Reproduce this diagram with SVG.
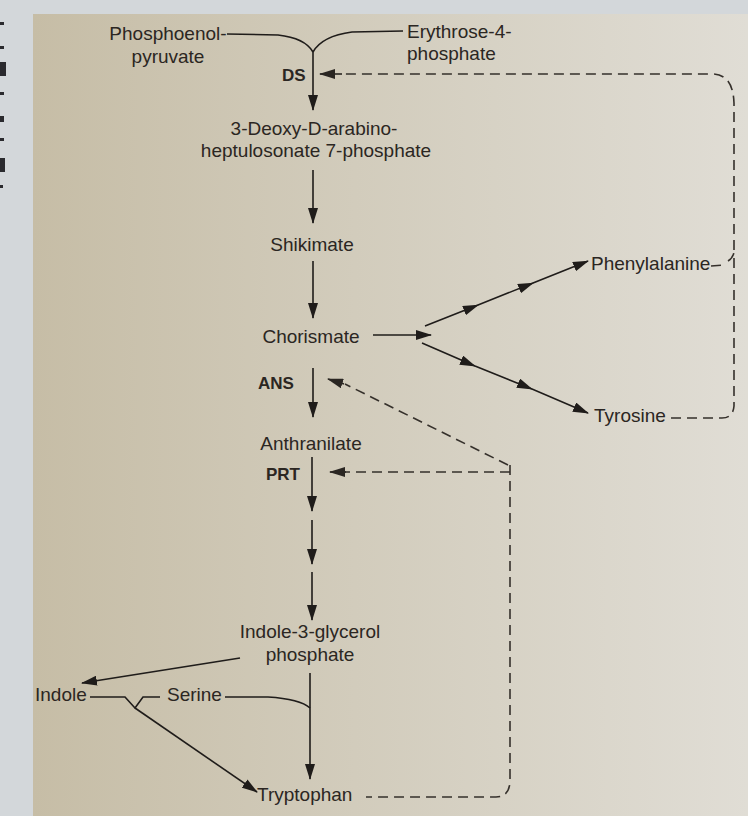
<svg xmlns="http://www.w3.org/2000/svg" width="748" height="816" viewBox="0 0 748 816">
<defs>
<linearGradient id="page" x1="0" y1="0" x2="1" y2="0">
<stop offset="0" stop-color="#c6bda6"/>
<stop offset="0.45" stop-color="#d2ccbc"/>
<stop offset="1" stop-color="#e0ddd5"/>
</linearGradient>
<marker id="ah" markerWidth="16" markerHeight="10" refX="15" refY="5" orient="auto" markerUnits="userSpaceOnUse">
<path d="M0,0 L16,5 L0,10 Z" fill="#1f1c1a"/>
</marker>
<marker id="ahd" markerWidth="16" markerHeight="10" refX="15" refY="5" orient="auto" markerUnits="userSpaceOnUse">
<path d="M0,0 L16,5 L0,10 Z" fill="#2a2622"/>
</marker>
</defs>
<style>
text{font-family:"Liberation Sans","DejaVu Sans",sans-serif;font-size:19px;fill:#2b2622}
.b{font-weight:bold;font-size:17px}
.m{text-anchor:middle}
.ln{fill:none;stroke:#1f1c1a;stroke-width:1.6}
.ar{fill:none;stroke:#1f1c1a;stroke-width:1.6;marker-end:url(#ah)}
.dsh{fill:none;stroke:#35302b;stroke-width:1.6;stroke-dasharray:10 6}
</style>
<rect x="0" y="0" width="748" height="816" fill="#d3d7da"/>
<rect x="33" y="14" width="715" height="802" fill="url(#page)"/>
<g fill="#2a2a2e">
<rect x="0" y="22" width="4" height="3"/>
<rect x="0" y="46" width="4" height="3"/>
<rect x="0" y="62" width="6" height="14"/>
<rect x="0" y="92" width="4" height="3"/>
<rect x="0" y="116" width="4" height="6"/>
<rect x="0" y="138" width="4" height="3"/>
<rect x="0" y="158" width="5" height="14"/>
<rect x="0" y="185" width="3" height="3"/>
</g>

<g id="connectors">
<path class="ln" d="M227,34 L278,35 Q305,38 313,52"/>
<path class="ln" d="M403,31 L352,32 Q322,36 313,52"/>
<path class="ar" d="M313,52 L313,110"/>
<path class="ar" d="M313,170 L313,223"/>
<path class="ar" d="M313,261 L313,318"/>
<path class="ar" d="M373,335 L431,335"/>
<path d="M425,326 L478,305 L533,283 L588,261" class="ln" marker-mid="url(#ah)" marker-end="url(#ah)"/>
<path d="M422,343 L475,366 L532,389 L588,413" class="ln" marker-mid="url(#ah)" marker-end="url(#ah)"/>
<path class="ar" d="M313,368 L313,417"/>
<path class="ar" d="M312,457 L312,511"/>
<path class="ar" d="M312,520 L312,564"/>
<path class="ar" d="M312,572 L312,620"/>
<path class="ar" d="M240,658 L82,683"/>
<path class="ln" d="M90,697 L125,697 L135,708 L143,697 L160,697"/>
<path class="ln" d="M225,697 L268,697 Q300,699 310,708"/>
<path class="ar" d="M310,673 L310,779"/>
<path class="ar" d="M135,708 L257,792"/>
<!-- feedback dashed -->
<path class="dsh" d="M734,250 L734,103 Q733,74 712,74 L340,74"/>
<path d="M342,74 L320,74" fill="none" stroke="#2a2622" stroke-width="1.6" marker-end="url(#ahd)"/>
<path class="dsh" d="M711,266 L724,265"/>
<path class="dsh" d="M728,261 Q733,258 734,252"/>
<path class="dsh" d="M734,258 L734,406 Q733,418 722,418 L671,418"/>
<path class="dsh" d="M508,465 L345,384"/>
<path d="M344,384 L328,379" fill="none" stroke="#2a2622" stroke-width="1.6" marker-end="url(#ahd)"/>
<path class="dsh" d="M510,472 L345,472"/>
<path d="M346,472 L330,472" fill="none" stroke="#2a2622" stroke-width="1.6" marker-end="url(#ahd)"/>
<path class="dsh" d="M510,465 L510,782 Q509,797 496,797 L366,797"/>
</g>

<g id="pep"><text x="168" y="40" class="m">Phosphoenol-</text><text x="168" y="63" class="m">pyruvate</text></g>
<g id="e4p"><text x="407" y="38">Erythrose-4-</text><text x="407" y="60">phosphate</text></g>
<g id="ds"><text x="282" y="81" class="b">DS</text></g>
<g id="dahp"><text x="314" y="135" class="m">3-Deoxy-D-arabino-</text><text x="316" y="157" class="m">heptulosonate 7-phosphate</text></g>
<g id="shikimate"><text x="312" y="251" class="m">Shikimate</text></g>
<g id="chorismate"><text x="311" y="343" class="m">Chorismate</text></g>
<g id="phenylalanine"><text x="591" y="270">Phenylalanine</text></g>
<g id="tyrosine"><text x="594" y="422">Tyrosine</text></g>
<g id="ans"><text x="258" y="389" class="b">ANS</text></g>
<g id="anthranilate"><text x="311" y="450" class="m">Anthranilate</text></g>
<g id="prt"><text x="266" y="480" class="b">PRT</text></g>
<g id="igp"><text x="310" y="638" class="m">Indole-3-glycerol</text><text x="310" y="661" class="m">phosphate</text></g>
<g id="indole"><text x="35" y="701">Indole</text></g>
<g id="serine"><text x="167" y="701">Serine</text></g>
<g id="tryptophan"><text x="257" y="801">Tryptophan</text></g>
</svg>
